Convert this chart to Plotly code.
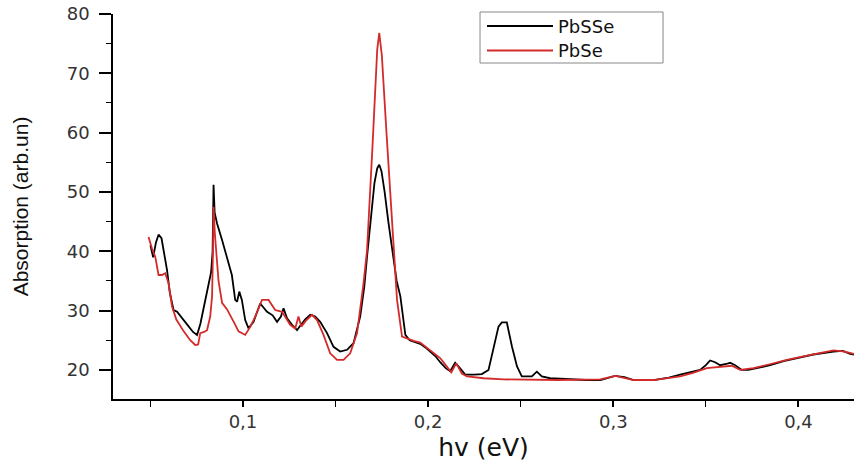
import plotly.graph_objects as go

# PbSSe (black)
pbsse_x = [0.0500, 0.0515, 0.0530, 0.0544, 0.0560, 0.0575, 0.0590, 0.0605, 0.0625, 0.0644,
           0.0665, 0.0700, 0.0730, 0.0752, 0.0770, 0.0795, 0.0815, 0.0828, 0.0836, 0.0841,
           0.0847, 0.0860, 0.0887, 0.0912, 0.0940, 0.0958, 0.0968, 0.0980, 0.0994, 0.1012,
           0.1030, 0.1057, 0.1093, 0.1130, 0.1160, 0.1184, 0.1205, 0.1219, 0.1238, 0.1265,
           0.1292, 0.1310, 0.1335, 0.1363, 0.1390, 0.1417, 0.1454, 0.1489, 0.1525, 0.1562,
           0.1597, 0.1633, 0.1655, 0.1670, 0.1690, 0.1710, 0.1725, 0.1736, 0.1748, 0.1765,
           0.1785, 0.1805, 0.1830, 0.1850, 0.1877, 0.1900, 0.1922, 0.1957, 0.1985, 0.2011,
           0.2040, 0.2065, 0.2095, 0.2119, 0.2146, 0.2164, 0.2200, 0.2250, 0.2290, 0.2326,
           0.2353, 0.2380, 0.2398, 0.2425, 0.2453, 0.2480, 0.2506, 0.2560, 0.2587, 0.2614,
           0.2659, 0.2750, 0.2850, 0.2930, 0.2970, 0.3010, 0.3060, 0.3110, 0.3217, 0.3300,
           0.3361, 0.3420, 0.3469, 0.3500, 0.3523, 0.3550, 0.3577, 0.3610, 0.3631, 0.3658,
           0.3694, 0.3730, 0.3790, 0.3847, 0.3920, 0.3991, 0.4080, 0.4189, 0.4240, 0.4279,
           0.4300]
pbsse_y = [41.0, 39.0, 41.5, 42.8, 42.2, 39.5, 36.8, 33.0, 30.1, 29.8,
           28.9, 27.6, 26.4, 25.9, 27.8, 31.5, 34.5, 36.5, 40.0, 51.2,
           46.5, 44.7, 41.9, 39.3, 36.0, 31.8, 31.5, 33.2, 31.8, 28.4,
           27.0, 28.1, 31.2, 29.8, 29.2, 28.1, 29.0, 30.4, 28.7, 27.6,
           26.7, 27.5, 28.5, 29.3, 29.0, 28.1, 26.2, 23.9, 23.1, 23.4,
           24.5, 29.0, 34.0, 39.1, 46.0, 51.5, 54.0, 54.6, 53.5, 50.0,
           45.0, 40.2, 35.0, 32.4, 25.9, 25.0, 24.8, 24.4, 23.8, 23.1,
           22.3, 21.3, 20.3, 19.8, 21.2, 20.6, 19.2, 19.2, 19.3, 20.0,
           23.9, 27.3, 28.0, 28.0, 23.9, 20.6, 18.9, 18.9, 19.7, 18.9,
           18.6, 18.4, 18.3, 18.3, 18.6, 19.0, 18.8, 18.3, 18.3, 18.7,
           19.2, 19.6, 20.0, 20.8, 21.6, 21.3, 20.8, 21.0, 21.2, 20.8,
           20.0, 20.0, 20.4, 20.8, 21.5, 22.0, 22.6, 23.1, 23.2, 22.7,
           22.6]

# PbSe (red)
pbse_x = [0.0490, 0.0508, 0.0526, 0.0544, 0.0562, 0.0580, 0.0598, 0.0617, 0.0640, 0.0680,
          0.0715, 0.0742, 0.0758, 0.0769, 0.0790, 0.0806, 0.0823, 0.0833, 0.0838, 0.0841,
          0.0848, 0.0858, 0.0868, 0.0887, 0.0914, 0.0950, 0.0976, 0.1012, 0.1040, 0.1066,
          0.1103, 0.1138, 0.1174, 0.1211, 0.1255, 0.1282, 0.1300, 0.1315, 0.1340, 0.1373,
          0.1400, 0.1435, 0.1471, 0.1508, 0.1543, 0.1579, 0.1616, 0.1651, 0.1670, 0.1700,
          0.1725, 0.1736, 0.1750, 0.1775, 0.1813, 0.1832, 0.1859, 0.1890, 0.1922, 0.1957,
          0.2011, 0.2065, 0.2100, 0.2125, 0.2152, 0.2182, 0.2210, 0.2300, 0.2407, 0.2700,
          0.2930, 0.3010, 0.3110, 0.3217, 0.3361, 0.3430, 0.3505, 0.3595, 0.3640, 0.3685,
          0.3757, 0.3850, 0.3937, 0.4060, 0.4189, 0.4250, 0.4300]
pbse_y = [42.4, 40.5, 39.1, 36.0, 36.0, 36.3, 34.6, 30.7, 28.5, 26.5,
          25.0, 24.2, 24.3, 26.2, 26.4, 26.7, 29.0, 32.4, 40.0, 47.5,
          43.0, 38.0, 35.0, 31.3, 30.2, 28.1, 26.5, 25.9, 27.3, 29.0,
          31.8, 31.8, 30.1, 29.8, 27.6, 27.0, 29.0, 27.3, 28.3, 29.3,
          28.4, 25.9, 22.8, 21.7, 21.7, 22.8, 26.2, 34.6, 40.2, 58.0,
          74.0, 76.8, 73.0, 60.0, 40.2, 31.8, 25.6, 25.2, 24.9, 24.6,
          23.3, 22.0, 20.6, 19.6, 21.1, 19.4, 18.9, 18.6, 18.4, 18.3,
          18.4, 19.0, 18.3, 18.3, 18.9, 19.5, 20.3, 20.5, 20.7, 20.0,
          20.3, 21.0, 21.7, 22.5, 23.3, 23.1, 22.7]

series_names = ["PbSSe", "PbSe"]
series_colors = ["#000000", "#d42a2a"]
x_ticks = [0.1, 0.2, 0.3, 0.4]
y_ticks = [20, 30, 40, 50, 60, 70, 80]

fig = go.Figure()
fig.add_trace(go.Scatter(x=pbsse_x, y=pbsse_y, mode="lines", name=series_names[0],
                         line=dict(color=series_colors[0], width=1.8)))
fig.add_trace(go.Scatter(x=pbse_x, y=pbse_y, mode="lines", name=series_names[1],
                         line=dict(color=series_colors[1], width=1.8)))

# Legend box drawn in paper coordinates (Origin-style framed legend)
fig.add_shape(type="rect", xref="paper", yref="paper", x0=0.4953, x1=0.7423, y0=0.8727, y1=1.0052,
              line=dict(color="#888888", width=1), fillcolor="white", layer="above")
legend_rows = [0.9688, 0.9052]
for name, color, yy in zip(series_names, series_colors, legend_rows):
    fig.add_shape(type="line", xref="paper", yref="paper", x0=0.5047, x1=0.5938, y0=yy, y1=yy,
                  line=dict(color=color, width=1.8), layer="above")
    fig.add_annotation(xref="paper", yref="paper", x=0.5992, y=yy, xanchor="left", yanchor="middle",
                       text=name, showarrow=False, borderpad=0,
                       font=dict(family="DejaVu Sans", size=18, color="#111111"))

tick_font = dict(family="DejaVu Sans", size=18, color="#333333")

fig.update_layout(
    width=854, height=462,
    margin=dict(l=113, r=0, t=14, b=63),
    paper_bgcolor="white", plot_bgcolor="white",
    separators=",.",
    showlegend=False,
    xaxis=dict(range=[0.0298, 0.43], tickvals=x_ticks, tickformat=".1f",
               showgrid=False, zeroline=False,
               showline=True, linecolor="black", linewidth=1.6,
               ticks="outside", ticklen=6, tickwidth=1.5, tickcolor="black",
               minor=dict(dtick=0.05, tick0=0, ticks="outside", ticklen=6, tickwidth=1.2, tickcolor="black"),
               tickfont=tick_font,
               title=dict(text="hv (eV)", font=dict(family="DejaVu Sans", size=25, color="#111111"), standoff=8)),
    yaxis=dict(range=[15.1, 80], tickvals=y_ticks,
               showgrid=False, zeroline=False,
               showline=True, linecolor="black", linewidth=1.6,
               ticks="outside", ticklen=12, tickwidth=1.5, tickcolor="black",
               minor=dict(dtick=5, tick0=0, ticks="outside", ticklen=5, tickwidth=1.2, tickcolor="black"),
               tickfont=tick_font, ticklabelstandoff=6,
               title=dict(text="Absorption (arb.un)",
                          font=dict(family="Liberation Sans, Arial, sans-serif", size=21, color="#111111"),
                          standoff=32)),
)

fig.write_html("out.html")
